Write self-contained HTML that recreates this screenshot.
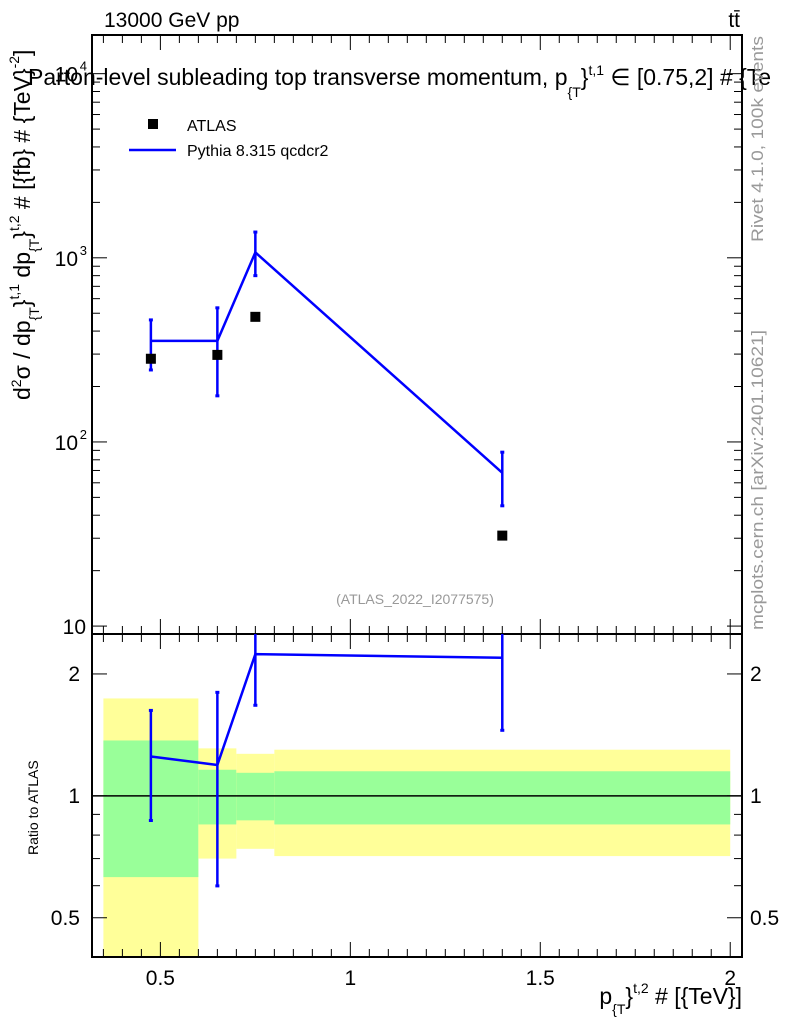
<!DOCTYPE html>
<html><head><meta charset="utf-8"><style>
body{margin:0;background:#fff;width:786px;height:1024px;overflow:hidden}
svg text{font-family:"Liberation Sans",sans-serif}
</style></head><body>
<svg id="c" width="786" height="1024" xmlns="http://www.w3.org/2000/svg"></svg>
<script>
const binEdges=[0.35,0.6,0.7,0.8,2.0];
const dataX=[0.475,0.65,0.75,1.4];
const dataY=[283,297,478,31];
const mcY=[354,354,1070,68];
const mcUp=[460,535,1380,88];
const mcDn=[246,178,800,45];
const yellowUp=[1.74,1.31,1.27,1.30];
const yellowDn=[0.3,0.70,0.74,0.71];
const greenUp=[1.37,1.16,1.14,1.15];
const greenDn=[0.63,0.85,0.87,0.85];
const xTicks=[0.5,1,1.5,2];
const xTickLabels=["0.5","1","1.5","2"];
const ratioTicks=[0.5,1,2];
const ratioTickLabels=["0.5","1","2"];

const L=92,R=742,T=35,MB=634,RB=957;
const xMin=0.32,xMax=2.031;
const X=v=>L+(v-xMin)/(xMax-xMin)*(R-L);
const yLo=0.957,yHi=4.21;
const Y=v=>MB-(Math.log10(v)-yLo)/(yHi-yLo)*(MB-T);
const rLo=0.4,rHi=2.51;
const RY=v=>{v=Math.max(rLo,Math.min(rHi,v));return RB-(Math.log(v)-Math.log(rLo))/(Math.log(rHi)-Math.log(rLo))*(RB-MB);};
const s=document.getElementById('c');
function el(t,a,txt){const e=document.createElementNS('http://www.w3.org/2000/svg',t);for(const k in a)e.setAttribute(k,a[k]);if(txt!==undefined)e.textContent=txt;s.appendChild(e);return e;}

for(let i=0;i<4;i++){
 const x0=X(binEdges[i]),x1=X(binEdges[i+1]);
 const y=el('rect',{x:x0,y:RY(yellowUp[i]),width:x1-x0,height:RY(yellowDn[i])-RY(yellowUp[i]),fill:'#ffff99'});
 
 
 const g=el('rect',{x:x0,y:RY(greenUp[i]),width:x1-x0,height:RY(greenDn[i])-RY(greenUp[i]),fill:'#99ff99'});
 
 
}
el('line',{x1:L,x2:R,y1:RY(1),y2:RY(1),stroke:'#000','stroke-width':1.5});

el('rect',{x:L,y:T,width:R-L,height:MB-T,fill:'none',stroke:'#000','stroke-width':2});
el('rect',{x:L,y:MB,width:R-L,height:RB-MB,fill:'none',stroke:'#000','stroke-width':2});

for(let v=0.35;v<=2.0001;v+=0.05){
 const major=xTicks.some(t=>Math.abs(t-v)<1e-6);const len=major?15:8;const x=X(v);
 for(const [y0,d] of [[T,1],[MB,-1],[MB,1],[RB,-1]]) el('line',{x1:x,x2:x,y1:y0,y2:y0+d*len,stroke:'#000','stroke-width':1});
}
xTicks.forEach((t,i)=>{const e=el('text',{x:X(t),y:985,'font-size':21,'text-anchor':'middle'},xTickLabels[i]);

});

for(let d=1;d<=4;d++)for(let m=1;m<=9;m++){const v=m*Math.pow(10,d);if(Math.log10(v)>yHi)continue;const y=Y(v);const len=m==1?15:8;
 el('line',{x1:L,x2:L+len,y1:y,y2:y,stroke:'#000'});el('line',{x1:R,x2:R-len,y1:y,y2:y,stroke:'#000'});}
[[10,'10',''],[100,'10','2'],[1000,'10','3'],[10000,'10','4']].forEach(([v,b,e])=>{
 const t=el('text',{x:e?78:86,y:Y(v)+8,'font-size':21,'text-anchor':'end'},b);
 
 
 if(e)el('text',{x:87,y:Y(v)-3,'font-size':13,'text-anchor':'end'},e);
});

[0.4,0.5,0.6,0.7,0.8,0.9,1,2].forEach(v=>{const y=RY(v);const len=[0.5,1,2].includes(v)?15:8;
 el('line',{x1:L,x2:L+len,y1:y,y2:y,stroke:'#000'});el('line',{x1:R,x2:R-len,y1:y,y2:y,stroke:'#000'});});
ratioTicks.forEach((t,i)=>{
 const a=el('text',{x:80,y:RY(t)+7,'font-size':21,'text-anchor':'end'},ratioTickLabels[i]);
 
 
 const b=el('text',{x:750,y:RY(t)+7,'font-size':21},ratioTickLabels[i]);
 
 
});

const pts=dataX.map((x,i)=>X(x)+','+Y(mcY[i])).join(' ');
const pl=el('polyline',{points:pts,fill:'none',stroke:'#0000ff','stroke-width':2.5});


dataX.forEach((x,i)=>{
 const e=el('line',{x1:X(x),x2:X(x),y1:Y(mcUp[i]),y2:Y(mcDn[i]),stroke:'#0000ff','stroke-width':2.5});
 
 
 el('rect',{x:X(x)-2,y:Y(mcUp[i])-1.5,width:4,height:3,fill:'#0000ff'});
 el('rect',{x:X(x)-2,y:Y(mcDn[i])-1.5,width:4,height:3,fill:'#0000ff'});
 const p=el('rect',{x:X(x)-5,y:Y(dataY[i])-5,width:10,height:10,fill:'#000'});
 
 
});
const rp=dataX.map((x,i)=>X(x)+','+RY(mcY[i]/dataY[i])).join(' ');
const rl=el('polyline',{points:rp,fill:'none',stroke:'#0000ff','stroke-width':2.5});


dataX.forEach((x,i)=>{
 const e=el('line',{x1:X(x),x2:X(x),y1:RY(mcUp[i]/dataY[i]),y2:RY(mcDn[i]/dataY[i]),stroke:'#0000ff','stroke-width':2.5});
 
 
 el('rect',{x:X(x)-2,y:RY(mcDn[i]/dataY[i])-1.5,width:4,height:3,fill:'#0000ff'});
 if(mcUp[i]/dataY[i]<rHi)el('rect',{x:X(x)-2,y:RY(mcUp[i]/dataY[i])-1.5,width:4,height:3,fill:'#0000ff'});
});
</script>
<svg width="786" height="1024" style="position:absolute;left:0;top:0" xmlns="http://www.w3.org/2000/svg">
<text x="104" y="27" font-size="21">13000 GeV pp</text>
<text x="740" y="27" font-size="21" text-anchor="end">tt̄</text>
<text x="28" y="85" font-size="23">Parton-level subleading top transverse momentum, p<tspan font-size="14" dy="12">{T</tspan><tspan font-size="23" dy="-12">}</tspan><tspan font-size="14" dy="-10">t,1</tspan><tspan dy="10"> ∈ [0.75,2] # {Te</tspan></text>
<g>
<rect x="148" y="119" width="10" height="10" fill="#000"/>
<text x="187" y="131" font-size="16">ATLAS</text>
<line x1="129" x2="176" y1="150" y2="150" stroke="#0000ff" stroke-width="2.5"/>
<text x="187" y="156" font-size="16">Pythia 8.315 qcdcr2</text>
</g>
<text x="415" y="604" font-size="14" fill="#999" text-anchor="middle">(ATLAS_2022_I2077575)</text>
<text transform="translate(30,400) rotate(-90)" font-size="23">d<tspan font-size="14" dy="-9">2</tspan><tspan dy="9">σ / dp</tspan><tspan font-size="14" dy="9">{T</tspan><tspan dy="-9">}</tspan><tspan font-size="14" dy="-11">t,1</tspan><tspan dy="11"> dp</tspan><tspan font-size="14" dy="9">{T</tspan><tspan dy="-9">}</tspan><tspan font-size="14" dy="-11">t,2</tspan><tspan dy="11"> # [{fb} # {TeV}</tspan><tspan font-size="14" dy="-11">-2</tspan><tspan dy="11">]</tspan></text>
<text transform="translate(38,855) rotate(-90)" font-size="14">Ratio to ATLAS</text>
<text x="742" y="1004" font-size="23" text-anchor="end">p<tspan font-size="14" dy="10">{T</tspan><tspan dy="-10">}</tspan><tspan font-size="14" dy="-11">t,2</tspan><tspan dy="11"> # [{TeV}]</tspan></text>
<text transform="translate(763,242) rotate(-90)" font-size="17" fill="#999" textLength="206" lengthAdjust="spacingAndGlyphs">Rivet 4.1.0,  100k events</text>
<text transform="translate(763,630) rotate(-90)" font-size="17" fill="#999" textLength="300" lengthAdjust="spacingAndGlyphs">mcplots.cern.ch [arXiv:2401.10621]</text>
</svg>
</body></html>
